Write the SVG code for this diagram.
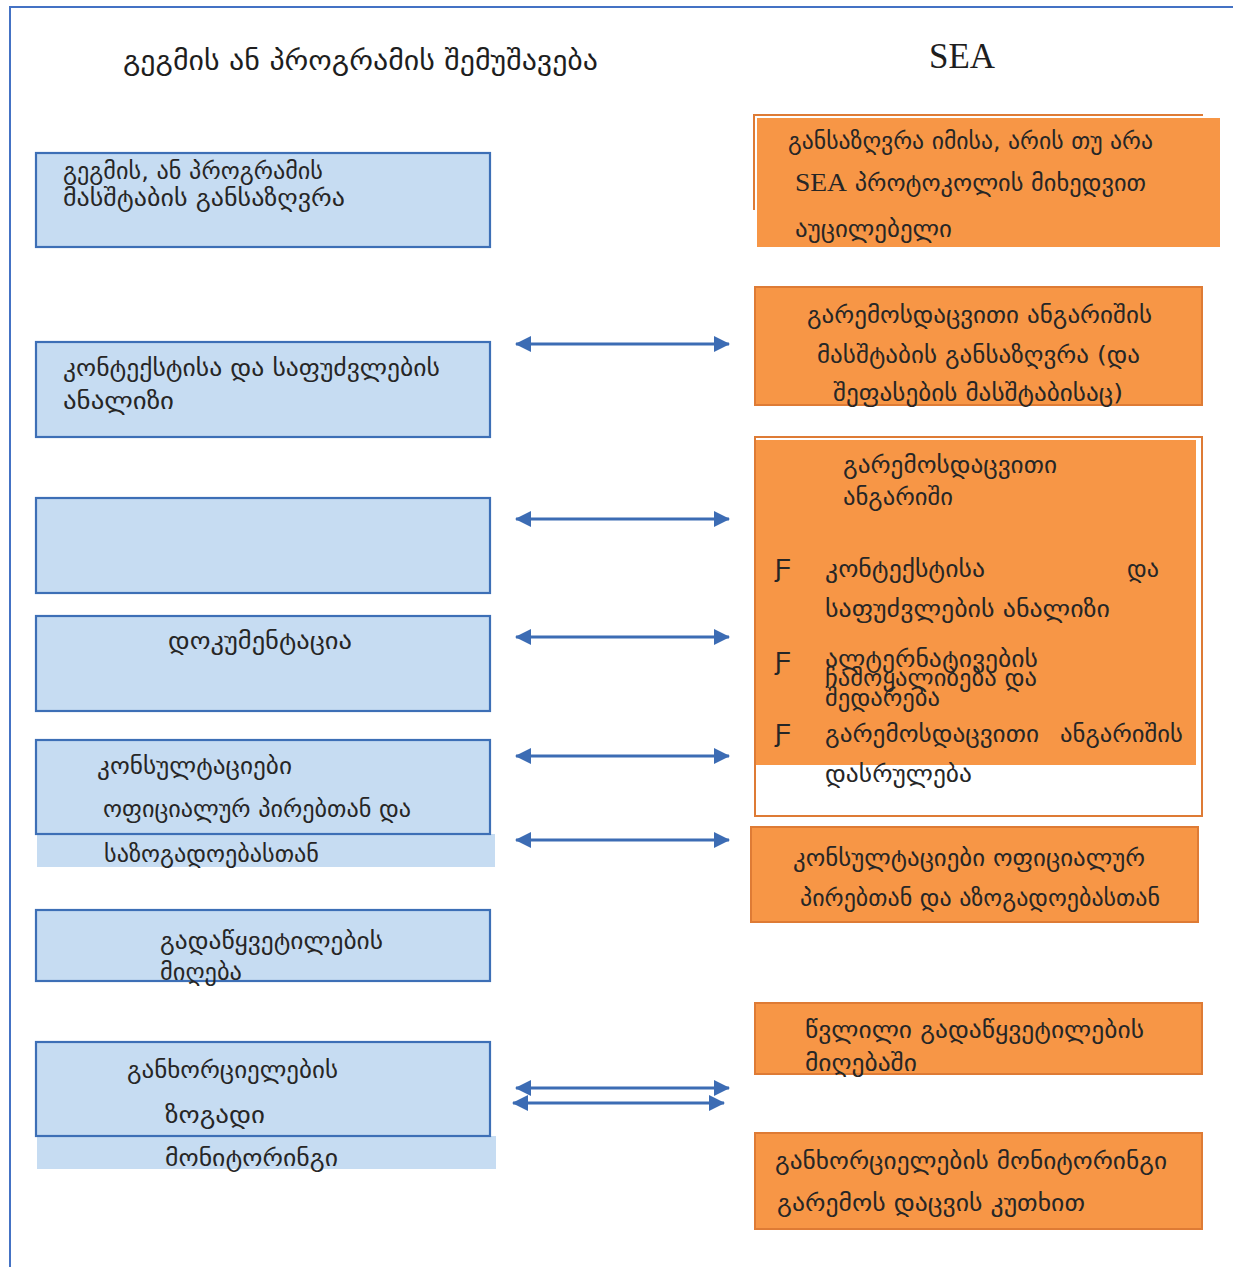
<svg xmlns="http://www.w3.org/2000/svg" width="1233" height="1267" viewBox="0 0 1233 1267">
  <style>
    .frame { fill: none; stroke: #4472C4; stroke-width: 2; }
    .plan { fill: #C6DCF2; stroke: #3D6FB6; stroke-width: 2.2; }
    .plan-fill { fill: #C6DCF2; }
    .sea { fill: #F79646; stroke: #DE7B35; stroke-width: 2; }
    .sea-fill { fill: #F79646; }
    .sea-line { fill: none; stroke: #DE7B35; stroke-width: 2; }
    .t { font-family: "DejaVu Sans", "Noto Sans", sans-serif; font-size: 23px; fill: #262626; }
    .h { font-family: "DejaVu Sans", "Noto Sans", sans-serif; font-size: 28px; fill: #1e1e1e; }
    .lat { font-family: "Liberation Serif", serif; }
    .bul { font-family: "Liberation Sans", sans-serif; font-size: 26px; fill: #262626; }
    .link { stroke: #3C6CB4; stroke-width: 3; fill: none; marker-start: url(#head-start); marker-end: url(#head-end); }
  </style>
  <defs>
    <marker id="head-end" viewBox="0 0 16 16" refX="15" refY="8" markerWidth="16" markerHeight="16" markerUnits="userSpaceOnUse" orient="auto">
      <path d="M0,0 L16,8 L0,16 Z" fill="#3C6CB4"/>
    </marker>
    <marker id="head-start" viewBox="0 0 16 16" refX="1" refY="8" markerWidth="16" markerHeight="16" markerUnits="userSpaceOnUse" orient="auto">
      <path d="M16,0 L0,8 L16,16 Z" fill="#3C6CB4"/>
    </marker>
  </defs>

  <rect width="1233" height="1267" fill="#ffffff"/>
  <!-- page frame -->
  <path class="frame" d="M10,1267 L10,7 L1233,7"/>

  <!-- column headings -->
  <g id="heading-plan">
    <text class="h" x="123" y="70" textLength="475" lengthAdjust="spacingAndGlyphs">გეგმის ან პროგრამის შემუშავება</text>
  </g>
  <g id="heading-sea">
    <text class="lat" x="929" y="68" font-size="35" fill="#1e1e1e" textLength="66" lengthAdjust="spacingAndGlyphs">SEA</text>
  </g>

  <!-- plan / programme column -->
  <g id="plan-scope">
    <rect class="plan" x="36" y="153" width="454" height="94"/>
    <text class="t" x="63" y="179" textLength="260" lengthAdjust="spacingAndGlyphs">გეგმის, ან პროგრამის</text>
    <text class="t" x="63" y="206" textLength="282" lengthAdjust="spacingAndGlyphs">მასშტაბის  განსაზღვრა</text>
  </g>
  <g id="plan-context">
    <rect class="plan" x="36" y="342" width="454" height="95"/>
    <text class="t" x="63" y="376" textLength="377" lengthAdjust="spacingAndGlyphs">კონტექსტისა და საფუძვლების</text>
    <text class="t" x="63" y="409" textLength="111" lengthAdjust="spacingAndGlyphs">ანალიზი</text>
  </g>
  <g id="plan-empty">
    <rect class="plan" x="36" y="498" width="454" height="95"/>
  </g>
  <g id="plan-documentation">
    <rect class="plan" x="36" y="616" width="454" height="95"/>
    <text class="t" x="168" y="649" textLength="184" lengthAdjust="spacingAndGlyphs">დოკუმენტაცია</text>
  </g>
  <g id="plan-consultation">
    <rect class="plan-fill" x="37" y="834" width="458" height="33"/>
    <rect class="plan" x="36" y="740" width="454" height="94"/>
    <text class="t" x="97" y="774" textLength="195" lengthAdjust="spacingAndGlyphs">კონსულტაციები</text>
    <text class="t" x="103" y="817" textLength="308" lengthAdjust="spacingAndGlyphs">ოფიციალურ პირებთან და</text>
    <text class="t" x="104" y="862" textLength="215" lengthAdjust="spacingAndGlyphs">საზოგადოებასთან</text>
  </g>
  <g id="plan-decision">
    <rect class="plan" x="36" y="910" width="454" height="71"/>
    <text class="t" x="160" y="949" textLength="223" lengthAdjust="spacingAndGlyphs">გადაწყვეტილების</text>
    <text class="t" x="160" y="980" textLength="82" lengthAdjust="spacingAndGlyphs">მიღება</text>
  </g>
  <g id="plan-monitoring">
    <rect class="plan-fill" x="37" y="1136" width="459" height="33"/>
    <rect class="plan" x="36" y="1042" width="454" height="94"/>
    <text class="t" x="127" y="1078" textLength="211" lengthAdjust="spacingAndGlyphs">განხორციელების</text>
    <text class="t" x="165" y="1123" textLength="100" lengthAdjust="spacingAndGlyphs">ზოგადი</text>
    <text class="t" x="165" y="1166" textLength="173" lengthAdjust="spacingAndGlyphs">მონიტორინგი</text>
  </g>

  <!-- SEA column -->
  <g id="sea-screening">
    <path class="sea-line" d="M754,210 L754,115 L1203,115"/>
    <rect class="sea-fill" x="757" y="118" width="463" height="129"/>
    <text class="t" x="788" y="149" font-size="24" textLength="365" lengthAdjust="spacingAndGlyphs">განსაზღვრა იმისა, არის თუ არა</text>
    <text class="t" x="795" y="191" font-size="24" textLength="351" lengthAdjust="spacingAndGlyphs"><tspan class="lat" font-size="26">SEA</tspan> პროტოკოლის მიხედვით</text>
    <text class="t" x="795" y="237" font-size="24" textLength="157" lengthAdjust="spacingAndGlyphs">აუცილებელი</text>
  </g>
  <g id="sea-scoping">
    <rect class="sea" x="755" y="287" width="447" height="118"/>
    <text class="t" x="807" y="323" font-size="24" textLength="345" lengthAdjust="spacingAndGlyphs">გარემოსდაცვითი ანგარიშის</text>
    <text class="t" x="817" y="363" font-size="24" textLength="323" lengthAdjust="spacingAndGlyphs">მასშტაბის განსაზღვრა (და</text>
    <text class="t" x="833" y="401" font-size="24" textLength="290" lengthAdjust="spacingAndGlyphs">შეფასების მასშტაბისაც)</text>
  </g>
  <g id="sea-report">
    <rect x="755" y="437" width="447" height="379" fill="#ffffff" stroke="#DE7B35" stroke-width="2"/>
    <rect class="sea-fill" x="756" y="440" width="440" height="325"/>
    <text class="t" x="843" y="473" font-size="24" textLength="214" lengthAdjust="spacingAndGlyphs">გარემოსდაცვითი</text>
    <text class="t" x="843" y="505" font-size="24" textLength="110" lengthAdjust="spacingAndGlyphs">ანგარიში</text>
    <text class="bul" x="775" y="577">Ƒ</text>
    <text class="t" x="825" y="577" font-size="24" textLength="160" lengthAdjust="spacingAndGlyphs">კონტექსტისა</text>
    <text class="t" x="1127" y="577" font-size="24" textLength="32" lengthAdjust="spacingAndGlyphs">და</text>
    <text class="t" x="825" y="617" font-size="24" textLength="285" lengthAdjust="spacingAndGlyphs">საფუძვლების ანალიზი</text>
    <text class="bul" x="775" y="670">Ƒ</text>
    <text class="t" x="825" y="667" font-size="24" textLength="213" lengthAdjust="spacingAndGlyphs">ალტერნატივების</text>
    <text class="t" x="825" y="686" font-size="24" textLength="212" lengthAdjust="spacingAndGlyphs">ჩამოყალიბება და</text>
    <text class="t" x="825" y="706" font-size="24" textLength="115" lengthAdjust="spacingAndGlyphs">შედარება</text>
    <text class="bul" x="775" y="742">Ƒ</text>
    <text class="t" x="825" y="742" font-size="24" textLength="214" lengthAdjust="spacingAndGlyphs">გარემოსდაცვითი</text>
    <text class="t" x="1060" y="742" font-size="24" textLength="123" lengthAdjust="spacingAndGlyphs">ანგარიშის</text>
    <text class="t" x="825" y="782" font-size="24" textLength="147" lengthAdjust="spacingAndGlyphs">დასრულება</text>
  </g>
  <g id="sea-consultation">
    <rect class="sea" x="751" y="827" width="447" height="95"/>
    <text class="t" x="793" y="866" font-size="24" textLength="352" lengthAdjust="spacingAndGlyphs">კონსულტაციები ოფიციალურ</text>
    <text class="t" x="800" y="906" font-size="24" textLength="360" lengthAdjust="spacingAndGlyphs">პირებთან და აზოგადოებასთან</text>
  </g>
  <g id="sea-decision">
    <rect class="sea" x="755" y="1003" width="447" height="71"/>
    <text class="t" x="805" y="1038" font-size="24" textLength="339" lengthAdjust="spacingAndGlyphs">წვლილი გადაწყვეტილების</text>
    <text class="t" x="805" y="1071" font-size="24" textLength="112" lengthAdjust="spacingAndGlyphs">მიღებაში</text>
  </g>
  <g id="sea-monitoring">
    <rect class="sea" x="755" y="1133" width="447" height="96"/>
    <text class="t" x="775" y="1169" font-size="24" textLength="392" lengthAdjust="spacingAndGlyphs">განხორციელების მონიტორინგი</text>
    <text class="t" x="777" y="1211" font-size="24" textLength="308" lengthAdjust="spacingAndGlyphs">გარემოს დაცვის კუთხით</text>
  </g>

  <!-- two-way links between the columns -->
  <g id="connectors">
    <line class="link" x1="516" y1="344" x2="729" y2="344"/>
    <line class="link" x1="516" y1="519" x2="729" y2="519"/>
    <line class="link" x1="516" y1="637" x2="729" y2="637"/>
    <line class="link" x1="516" y1="756" x2="729" y2="756"/>
    <line class="link" x1="516" y1="840" x2="729" y2="840"/>
    <line class="link" x1="516" y1="1088" x2="729" y2="1088"/>
    <line class="link" x1="513" y1="1103" x2="724" y2="1103"/>
  </g>
</svg>
